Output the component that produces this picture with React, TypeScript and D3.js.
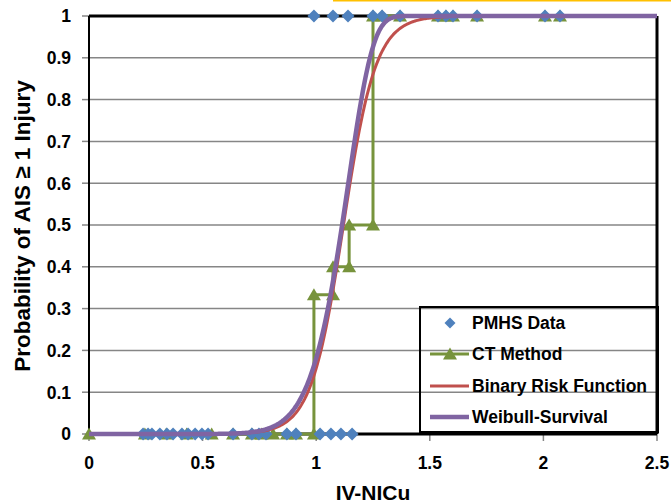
import React from "react";
import * as d3 from "d3";

const pmhsInjuredX = [0.99, 1.074, 1.14, 1.25, 1.29, 1.369, 1.536, 1.571, 1.602, 1.708, 2.007, 2.073];
const pmhsUninjuredX = [0.238, 0.26, 0.277, 0.312, 0.343, 0.37, 0.409, 0.436, 0.467, 0.497, 0.524, 0.634, 0.717, 0.748, 0.779, 0.871, 0.911, 1.017, 1.065, 1.109, 1.158];

const ctX = [0, 0.246, 0.34, 0.43, 0.54, 0.634, 0.717, 0.76, 0.81, 0.871, 0.911, 0.99, 0.99, 1.074, 1.074, 1.145, 1.145, 1.25, 1.25, 1.29, 1.369, 1.536, 1.571, 1.602, 1.708, 2.007, 2.073];
const ctP = [0, 0, 0, 0, 0, 0, 0, 0, 0, 0, 0, 0, 0.333, 0.333, 0.4, 0.4, 0.5, 0.5, 1, 1, 1, 1, 1, 1, 1, 1, 1];

const logisticX50 = 1.12;
const logisticSlope = 14;
const weibullLambda = 1.15;
const weibullK = 11.5;

const yTicks = [0, 0.1, 0.2, 0.3, 0.4, 0.5, 0.6, 0.7, 0.8, 0.9, 1];
const xTicks = [0, 0.5, 1, 1.5, 2, 2.5];
const legendLabels = ["PMHS Data", "CT Method", "Binary Risk Function", "Weibull-Survival"];

const BLUE = "#4F81BD";
const GREEN = "#77933C";
const RED = "#C0504D";
const PURPLE = "#8064A2";
const FONT = "'Liberation Sans', Arial, sans-serif";

export default function App() {
  const W = 671, H = 504;
  const x = d3.scaleLinear().domain([0, 2.5]).range([89, 657]);
  const y = d3.scaleLinear().domain([0, 1]).range([434, 16]);

  const curveXs = d3.range(0, 2.5001, 0.005);
  const logistic = (v: number) => 1 / (1 + Math.exp(-logisticSlope * (v - logisticX50)));
  const weibull = (v: number) => 1 - Math.exp(-Math.pow(v / weibullLambda, weibullK));
  const line = d3.line<[number, number]>().x(d => x(d[0])).y(d => y(d[1]));
  const redPath = line(curveXs.map(v => [v, logistic(v)]))!;
  const purplePath = line(curveXs.map(v => [v, weibull(v)]))!;
  const ctPath = line(ctX.map((v, i) => [v, ctP[i]]))!;

  const diamond = (cx: number, cy: number, r = 6.5) =>
    `M${cx},${cy - r}L${cx + r},${cy}L${cx},${cy + r}L${cx - r},${cy}Z`;
  const triangle = (cx: number, cy: number, w = 14, h = 12) =>
    `M${cx},${cy - h * 0.55}L${cx + w / 2},${cy + h * 0.45}L${cx - w / 2},${cy + h * 0.45}Z`;

  const pmhs = [
    ...pmhsUninjuredX.map(v => [v, 0]),
    ...pmhsInjuredX.map(v => [v, 1]),
  ];

  const legY = [323, 354, 386, 417];

  return (
    <svg width={W} height={H} style={{ position: "absolute", left: 0, top: 0, background: "#fff" }}>
      <rect x={0} y={0} width={W} height={H} fill="#fff" />
      <rect x={333} y={0} width={338} height={1.5} fill="#FFC000" />
      {/* gridlines */}
      {yTicks.slice(1, -1).map(t => (
        <line key={"g" + t} x1={89} x2={657} y1={y(t)} y2={y(t)} stroke="#868686" strokeWidth={1.5} />
      ))}
      {/* y ticks */}
      {yTicks.map(t => (
        <line key={"yt" + t} x1={82} x2={89} y1={y(t)} y2={y(t)} stroke="#868686" strokeWidth={1.5} />
      ))}
      {xTicks.map(t => (
        <line key={"xt" + t} x1={x(t)} x2={x(t)} y1={434} y2={441} stroke="#868686" strokeWidth={1.5} />
      ))}
      {/* plot border */}
      <line x1={89} x2={657} y1={16} y2={16} stroke="#000" strokeWidth={3} />
      <line x1={657} x2={657} y1={16} y2={434} stroke="#000" strokeWidth={3} />
      <line x1={89} x2={657} y1={434} y2={434} stroke="#000" strokeWidth={3} />
      <line x1={89} x2={89} y1={16} y2={434} stroke="#000" strokeWidth={2} />

      {/* legend box */}
      <rect x={420} y={307} width={238} height={125} fill="none" stroke="#000" strokeWidth={2} />

      {/* CT method */}
      <path d={ctPath} fill="none" stroke={GREEN} strokeWidth={3} />
      {ctX.map((v, i) => (
        <path key={"ct" + i} d={triangle(x(v), y(ctP[i]))} fill={GREEN} />
      ))}
      {/* PMHS */}
      {pmhs.map((p, i) => (
        <path key={"pm" + i} d={diamond(x(p[0]), y(p[1]))} fill={BLUE} />
      ))}
      {/* curves */}
      <path d={redPath} fill="none" stroke={RED} strokeWidth={3} />
      <path d={purplePath} fill="none" stroke={PURPLE} strokeWidth={4.5} />

      {/* y tick labels */}
      {yTicks.map(t => (
        <text key={"yl" + t} x={71} y={y(t)} dy="0.36em" textAnchor="end" fontFamily={FONT} fontWeight="bold" fontSize={17.5} fill="#000">
          {t === 0 || t === 1 ? String(t) : t.toFixed(1)}
        </text>
      ))}
      {xTicks.map(t => (
        <text key={"xl" + t} x={x(t)} y={469} textAnchor="middle" fontFamily={FONT} fontWeight="bold" fontSize={17.5} fill="#000">
          {String(t)}
        </text>
      ))}
      <text x={373} y={500} textAnchor="middle" fontFamily={FONT} fontWeight="bold" fontSize={21} fill="#000">IV-NICu</text>
      <text transform="translate(30,226) rotate(-90)" textAnchor="middle" fontFamily={FONT} fontWeight="bold" fontSize={22.5} fill="#000">
        Probability of AIS ≥ 1 Injury
      </text>

      {/* legend entries */}
      <path d={diamond(450, legY[0], 5.5)} fill={BLUE} />
      <line x1={430} x2={469} y1={legY[1]} y2={legY[1]} stroke={GREEN} strokeWidth={3} />
      <path d={triangle(450, legY[1])} fill={GREEN} />
      <line x1={430} x2={469} y1={legY[2]} y2={legY[2]} stroke={RED} strokeWidth={3} />
      <line x1={430} x2={469} y1={legY[3]} y2={legY[3]} stroke={PURPLE} strokeWidth={4.5} />
      {legendLabels.map((l, i) => (
        <text key={l} x={472} y={legY[i]} dy="0.36em" fontFamily={FONT} fontWeight="bold" fontSize={17.5} fill="#000">{l}</text>
      ))}
    </svg>
  );
}
